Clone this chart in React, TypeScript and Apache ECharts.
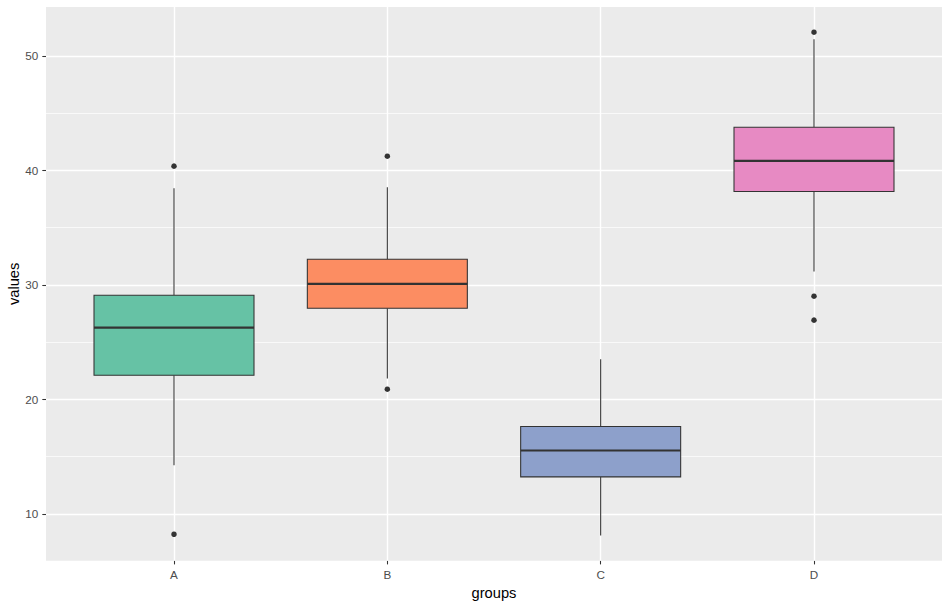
import React, { useEffect, useRef } from "react";
import * as echarts from "echarts";

const categories = ["A", "B", "C", "D"];
const lowerWhisker = [14.25, 21.82, 8.11, 31.16];
const q1 = [22.11, 27.96, 13.23, 38.15];
const median = [26.27, 30.09, 15.53, 40.83];
const q3 = [29.1, 32.24, 17.63, 43.77];
const upperWhisker = [38.45, 38.53, 23.51, 51.46];
const outliersA = [40.37, 8.22];
const outliersB = [41.24, 20.89];
const outliersC: number[] = [];
const outliersD = [52.07, 29.01, 26.92];
const fillColors = ["#66C2A5", "#FC8D62", "#8DA0CB", "#E78AC3"];
const yTicks = [10, 20, 30, 40, 50];
const yMinorTicks = [15, 25, 35, 45];

export default function App() {
  const ref = useRef<HTMLDivElement>(null);
  useEffect(() => {
    if (!ref.current) return;
    const chart = echarts.init(ref.current, null, { renderer: "svg" });
    const xPositions = categories.map((_, i) => i + 1);
    const boxData = categories.map((_, i) => [
      i + 1,
      lowerWhisker[i],
      q1[i],
      median[i],
      q3[i],
      upperWhisker[i],
    ]);
    const allOutliers = [outliersA, outliersB, outliersC, outliersD];
    const outlierData: number[][] = [];
    allOutliers.forEach((arr, i) => arr.forEach((v) => outlierData.push([i + 1, v])));
    const font = "Liberation Sans, Arial, sans-serif";

    chart.setOption({
      animation: false,
      grid: {
        left: 46,
        right: 8,
        top: 7,
        bottom: 46.3,
        show: true,
        backgroundColor: "#EBEBEB",
        borderWidth: 0,
        outerBoundsMode: "none",
        containLabel: false,
      },
      xAxis: {
        type: "value",
        min: 0.4,
        max: 4.6,
        name: "groups",
        nameLocation: "middle",
        nameGap: 21,
        nameTextStyle: { fontSize: 14.7, color: "#000000", fontFamily: font },
        axisLine: { show: false },
        axisTick: {
          show: true,
          customValues: xPositions,
          length: 3.7,
          lineStyle: { color: "#333333", width: 1.07 },
        },
        axisLabel: {
          customValues: xPositions,
          formatter: (v: number) => categories[Math.round(v) - 1] ?? "",
          color: "#4D4D4D",
          fontSize: 11.7,
          fontFamily: font,
          margin: 7.5,
        },
        splitLine: { show: false },
      },
      yAxis: {
        type: "value",
        min: 5.91,
        max: 54.27,
        name: "values",
        nameLocation: "middle",
        nameGap: 25,
        nameMoveOverlap: false,
        nameRotate: 90,
        nameTextStyle: { fontSize: 14.7, color: "#000000", fontFamily: font },
        axisLine: { show: false },
        axisTick: {
          show: true,
          customValues: yTicks,
          length: 3.7,
          lineStyle: { color: "#333333", width: 1.07 },
        },
        axisLabel: {
          customValues: yTicks,
          color: "#4D4D4D",
          fontSize: 11.7,
          fontFamily: font,
          margin: 7.7,
        },
        splitLine: { show: false },
      },
      series: [
        {
          type: "line",
          data: [],
          silent: true,
          z: 1,
          markLine: {
            z: 1,
            silent: true,
            symbol: ["none", "none"],
            label: { show: false },
            animation: false,
            data: [
              ...yMinorTicks.map((v) => ({
                yAxis: v,
                lineStyle: { color: "#FFFFFF", width: 0.7, type: "solid" },
              })),
              ...yTicks.map((v) => ({
                yAxis: v,
                lineStyle: { color: "#FFFFFF", width: 1.4, type: "solid" },
              })),
              ...xPositions.map((v) => ({
                xAxis: v,
                lineStyle: { color: "#FFFFFF", width: 1.4, type: "solid" },
              })),
            ],
          },
        },
        {
          type: "custom",
          z: 10,
          data: boxData,
          encode: { x: 0, y: [1, 2, 3, 4, 5] },
          renderItem: (params: any, api: any) => {
            const x = api.value(0);
            const lw = api.coord([x, api.value(1)]);
            const b1 = api.coord([x, api.value(2)]);
            const md = api.coord([x, api.value(3)]);
            const b3 = api.coord([x, api.value(4)]);
            const uw = api.coord([x, api.value(5)]);
            const half = api.size([0.75, 0])[0] / 2;
            const stroke = "#333333";
            return {
              type: "group",
              children: [
                {
                  type: "line",
                  shape: { x1: uw[0], y1: uw[1], x2: b3[0], y2: b3[1] },
                  style: { stroke, lineWidth: 1.07 },
                },
                {
                  type: "line",
                  shape: { x1: b1[0], y1: b1[1], x2: lw[0], y2: lw[1] },
                  style: { stroke, lineWidth: 1.07 },
                },
                {
                  type: "rect",
                  shape: {
                    x: b3[0] - half,
                    y: b3[1],
                    width: half * 2,
                    height: b1[1] - b3[1],
                  },
                  style: {
                    fill: fillColors[params.dataIndex],
                    stroke,
                    lineWidth: 1.07,
                  },
                },
                {
                  type: "line",
                  shape: { x1: md[0] - half, y1: md[1], x2: md[0] + half, y2: md[1] },
                  style: { stroke, lineWidth: 2.13 },
                },
              ],
            };
          },
        },
        {
          type: "scatter",
          z: 11,
          data: outlierData,
          symbol: "circle",
          symbolSize: 5.5,
          itemStyle: { color: "#333333", opacity: 1 },
        },
      ],
    });
    return () => chart.dispose();
  }, []);
  return (
    <div
      ref={ref}
      style={{ position: "fixed", left: 0, top: 0, width: 950, height: 607, background: "#FFFFFF" }}
    />
  );
}
